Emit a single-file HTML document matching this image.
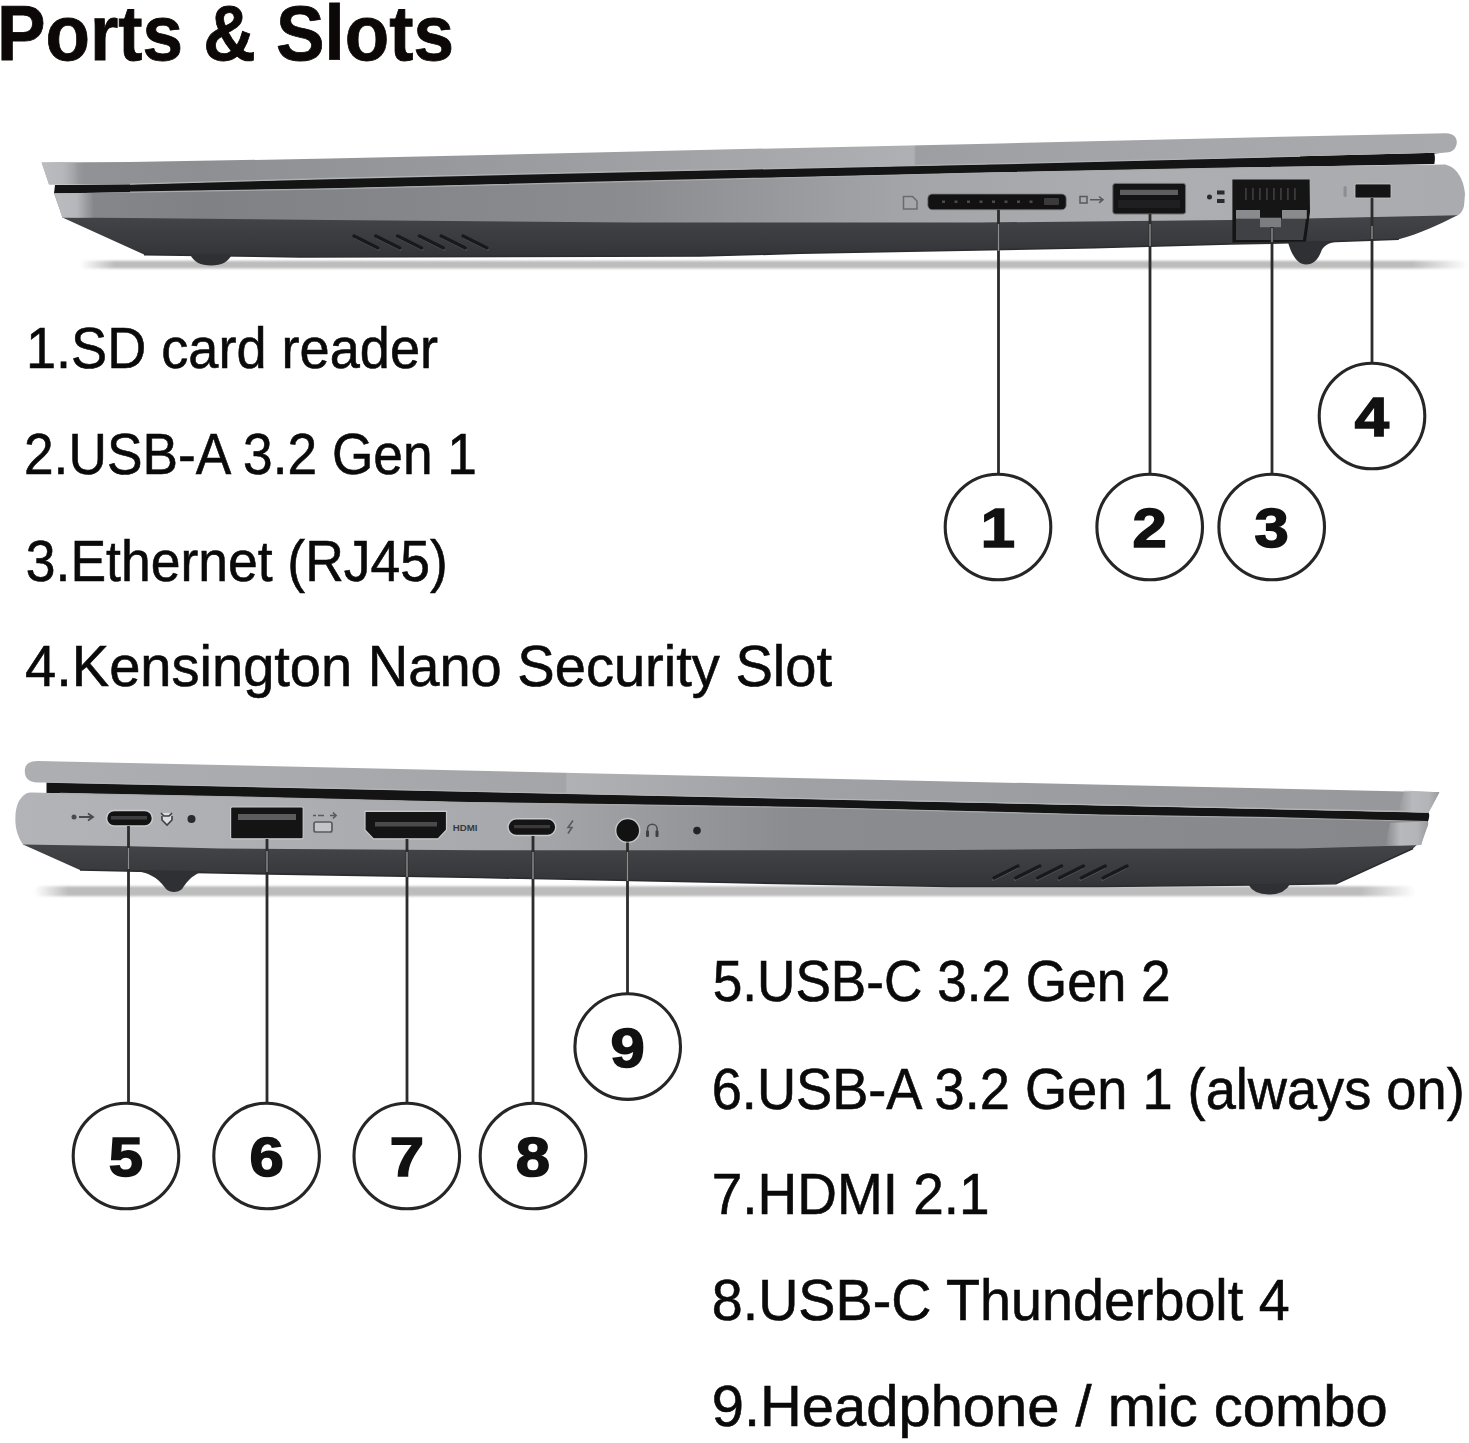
<!DOCTYPE html><html><head><meta charset="utf-8"><style>html,body{margin:0;padding:0;background:#fff;overflow:hidden}svg{display:block}</style></head><body>
<svg width="1469" height="1443" viewBox="0 0 1469 1443">
<defs>
<filter id="blur2" x="-5%" y="-200%" width="110%" height="500%"><feGaussianBlur stdDeviation="1.1"/></filter>
<filter id="soft" x="-20%" y="-20%" width="140%" height="140%"><feGaussianBlur stdDeviation="0.7"/></filter>
<linearGradient id="base1" gradientUnits="userSpaceOnUse" x1="40" x2="1465" y1="0" y2="0">
 <stop offset="0" stop-color="#b4b5b8"/><stop offset="0.0316" stop-color="#86878b"/><stop offset="0.1123" stop-color="#808185"/><stop offset="0.414" stop-color="#8b8c90"/><stop offset="0.6035" stop-color="#a3a4a7"/><stop offset="0.779" stop-color="#adaeb1"/><stop offset="1" stop-color="#aaabae"/>
</linearGradient>
<linearGradient id="lid1" gradientUnits="userSpaceOnUse" x1="40" x2="1465" y1="0" y2="0">
 <stop offset="0" stop-color="#b8b9bc"/><stop offset="0.0316" stop-color="#919296"/><stop offset="0.1123" stop-color="#8e8f93"/><stop offset="0.414" stop-color="#9fa0a3"/><stop offset="0.6133" stop-color="#afb0b3"/><stop offset="0.6146" stop-color="#9d9ea2"/><stop offset="0.814" stop-color="#a6a7aa"/><stop offset="1" stop-color="#a9aaad"/>
</linearGradient>
<linearGradient id="base2" gradientUnits="userSpaceOnUse" x1="10" x2="1430" y1="0" y2="0">
 <stop offset="0" stop-color="#b3b4b7"/><stop offset="0.35" stop-color="#a8a9ac"/><stop offset="0.55" stop-color="#8b8c90"/><stop offset="0.91" stop-color="#88898d"/><stop offset="1" stop-color="#86878a"/>
</linearGradient>
<linearGradient id="lid2" gradientUnits="userSpaceOnUse" x1="10" x2="1440" y1="0" y2="0">
 <stop offset="0" stop-color="#aeafb2"/><stop offset="0.3885" stop-color="#a4a5a8"/><stop offset="0.3895" stop-color="#b0b1b4"/><stop offset="0.55" stop-color="#a0a1a5"/><stop offset="0.9" stop-color="#999a9d"/><stop offset="1" stop-color="#96979a"/>
</linearGradient>
<linearGradient id="darkg" x1="0" x2="0" y1="0" y2="1"><stop offset="0" stop-color="#45464a"/><stop offset="1" stop-color="#333438"/></linearGradient>
<linearGradient id="bev" x1="0" x2="1" y1="0" y2="0"><stop offset="0" stop-color="#b8b9bc" stop-opacity="0"/><stop offset="0.35" stop-color="#b8b9bc"/><stop offset="0.75" stop-color="#b3b4b7"/><stop offset="1" stop-color="#9a9b9e"/></linearGradient>
<linearGradient id="bevL" x1="0" x2="1" y1="0" y2="0"><stop offset="0" stop-color="#bbbcbf"/><stop offset="0.55" stop-color="#b6b7ba"/><stop offset="1" stop-color="#b6b7ba" stop-opacity="0"/></linearGradient>
<linearGradient id="shad" x1="0" x2="1" y1="0" y2="0">
 <stop offset="0" stop-color="#bcbcbc" stop-opacity="0"/><stop offset="0.025" stop-color="#bcbcbc"/><stop offset="0.96" stop-color="#bcbcbc"/><stop offset="1" stop-color="#bcbcbc" stop-opacity="0"/>
</linearGradient>
</defs>
<rect width="1469" height="1443" fill="#fff"/>
<text x="-3" y="60" font-family='"Liberation Sans", sans-serif' font-weight="bold" font-size="78" fill="#0d0808" stroke="#0d0808" stroke-width="0.8" textLength="457" lengthAdjust="spacingAndGlyphs">Ports &amp; Slots</text>
<rect x="80" y="260.8" width="1388" height="7.6" rx="3.8" fill="url(#shad)" filter="url(#blur2)"/>
<path d="M62.4,214 L1457.6,211 L1457.6,215.3 C1440,224 1420,234 1398.8,239.2 L1322.0,242.0 L1230.0,244.0 L1094.0,247.8 L800.0,253.3 L700.0,256.0 L300.0,257.0 L144.0,254.6 L62.4,217.4 Z" fill="url(#darkg)"/>
<polyline points="1398.8,239.2 1322.0,242.0 1230.0,244.0 1094.0,247.8 800.0,253.3 700.0,256.0 300.0,257.0 144.0,254.6" fill="none" stroke="#2b2c2f" stroke-width="1.6"/>
<path d="M190,254 Q195,265.5 211,265.5 Q227,265.5 232,254 Z" fill="#2f3033"/>
<path d="M1288,242.5 C1292,256 1298,264.5 1306,264.5 C1314,264.5 1318,259 1321,252 C1323,246 1328,243 1338,241.3 Z" fill="#2f3033"/>
<path d="M55,185 L130.0,184.2 L330.0,178.5 L630.0,171.5 L980.0,164.2 L1300.0,156.2 L1446.0,152.6 L1434.3,153.5 Q1435.5,158 1434.3,164 L1240.0,167.8 L980.0,173.0 L630.0,181.4 L330.0,188.8 L130.0,192.2 L54.0,193.5 Z" fill="#141415"/>
<path d="M54,193.5 L130.0,192.2 L330.0,188.8 L630.0,181.4 L980.0,173.0 L1240.0,167.8 L1446.0,165.0 C1455,166 1464,178 1465,194 L1464,206 C1463,210 1461,214 1457.6,215.3 L1230.0,220.0 L980.0,222.5 L630.0,222.5 L330.0,220.0 L130.0,218.0 L62.4,217.4 Z" fill="url(#base1)"/>
<polyline points="130.0,192.2 330.0,188.8 630.0,181.4 980.0,173.0 1240.0,167.8 1446.0,165.0" fill="none" stroke="#a9aaad" stroke-width="1.2"/>
<path d="M41.6,162.5 L130.0,162.0 L330.0,158.6 L700.0,150.0 L1000.0,143.5 L1240.0,137.7 L1446.0,133.3 C1453,133.3 1457,137 1456.8,142.5 C1456.5,148 1453,152.2 1446,152.6 L1300.0,156.2 L980.0,164.2 L630.0,171.5 L330.0,178.5 L130.0,184.2 L49.0,184.5 Z" fill="url(#lid1)"/>
<polyline points="1300.0,156.2 980.0,164.2 630.0,171.5 330.0,178.5 130.0,184.2" fill="none" stroke="#b0b1b4" stroke-width="1.3"/>
<path d="M41.6,162.5 L76,161.8 L79,184.3 L49,184.5 Z" fill="url(#bevL)"/>
<path d="M54.5,193.5 L92,192.8 L94,218 L62.4,217.4 Z" fill="url(#bevL)"/>
<line x1="354.0" y1="236" x2="378.0" y2="248" stroke="#5a5b5f" stroke-width="2" stroke-linecap="round" transform="translate(0.8,1.6)"/>
<line x1="354.0" y1="236" x2="378.0" y2="248" stroke="#18191b" stroke-width="3.2" stroke-linecap="round"/>
<line x1="375.8" y1="236" x2="399.8" y2="248" stroke="#5a5b5f" stroke-width="2" stroke-linecap="round" transform="translate(0.8,1.6)"/>
<line x1="375.8" y1="236" x2="399.8" y2="248" stroke="#18191b" stroke-width="3.2" stroke-linecap="round"/>
<line x1="397.6" y1="236" x2="421.6" y2="248" stroke="#5a5b5f" stroke-width="2" stroke-linecap="round" transform="translate(0.8,1.6)"/>
<line x1="397.6" y1="236" x2="421.6" y2="248" stroke="#18191b" stroke-width="3.2" stroke-linecap="round"/>
<line x1="419.4" y1="236" x2="443.4" y2="248" stroke="#5a5b5f" stroke-width="2" stroke-linecap="round" transform="translate(0.8,1.6)"/>
<line x1="419.4" y1="236" x2="443.4" y2="248" stroke="#18191b" stroke-width="3.2" stroke-linecap="round"/>
<line x1="441.2" y1="236" x2="465.2" y2="248" stroke="#5a5b5f" stroke-width="2" stroke-linecap="round" transform="translate(0.8,1.6)"/>
<line x1="441.2" y1="236" x2="465.2" y2="248" stroke="#18191b" stroke-width="3.2" stroke-linecap="round"/>
<line x1="463.0" y1="236" x2="487.0" y2="248" stroke="#5a5b5f" stroke-width="2" stroke-linecap="round" transform="translate(0.8,1.6)"/>
<line x1="463.0" y1="236" x2="487.0" y2="248" stroke="#18191b" stroke-width="3.2" stroke-linecap="round"/>
<path d="M903.5,196.5 h9 l4.5,4.5 v8 h-13.5 z" fill="#a5a6a9" stroke="#6a6b6e" stroke-width="1.5"/>
<rect x="927.8" y="194" width="138.4" height="15.8" rx="4.5" fill="#121213" stroke="#7a7b7e" stroke-width="0.8"/>
<rect x="942.0" y="200.5" width="3" height="2.5" fill="#4a4a4c"/>
<rect x="954.5" y="200.5" width="3" height="2.5" fill="#4a4a4c"/>
<rect x="967.0" y="200.5" width="3" height="2.5" fill="#4a4a4c"/>
<rect x="979.5" y="200.5" width="3" height="2.5" fill="#4a4a4c"/>
<rect x="992.0" y="200.5" width="3" height="2.5" fill="#4a4a4c"/>
<rect x="1004.5" y="200.5" width="3" height="2.5" fill="#4a4a4c"/>
<rect x="1017.0" y="200.5" width="3" height="2.5" fill="#4a4a4c"/>
<rect x="1029.5" y="200.5" width="3" height="2.5" fill="#4a4a4c"/>
<rect x="1044" y="198" width="15" height="7" rx="1" fill="#3a3a3c"/>
<path d="M1080,196.5 h7 v6.5 h-7 z M1090,199.7 h13 M1099,196.5 l4,3.2 l-4,3.2" stroke="#58595c" stroke-width="1.5" fill="none"/>
<rect x="1112.8" y="183.4" width="72.8" height="30.6" rx="2.5" fill="#141415" stroke="#707174" stroke-width="1"/>
<rect x="1120" y="189.8" width="58" height="5.2" fill="#5e5e61"/>
<rect x="1118" y="200" width="62" height="8" fill="#1f1f21"/>
<path d="M1209.5,197 m-2.5,0 a2.5,2.5 0 1,0 5,0 a2.5,2.5 0 1,0 -5,0 M1217,190.5 h7.5 v4 h-7.5z M1217,199 h7.5 v4 h-7.5z" fill="#2a2a2c"/>
<path d="M1232.4,179.5 L1309.6,179.5 L1310,212 L1306,241.5 L1232.4,242.5 Z" fill="#151516"/>
<path d="M1236,219 L1306,219 L1303,240 L1236,240 Z" fill="#404145"/>
<rect x="1236" y="210" width="24" height="8.8" fill="#8a8b8e"/>
<rect x="1282" y="210" width="24.8" height="8.8" fill="#8a8b8e"/>
<rect x="1260" y="217.7" width="21" height="9.5" fill="#7c7d80"/>
<rect x="1245.0" y="188" width="1.8" height="12" fill="#3a3a3c"/>
<rect x="1252.0" y="188" width="1.8" height="12" fill="#3a3a3c"/>
<rect x="1259.0" y="188" width="1.8" height="12" fill="#3a3a3c"/>
<rect x="1266.0" y="188" width="1.8" height="12" fill="#3a3a3c"/>
<rect x="1273.0" y="188" width="1.8" height="12" fill="#3a3a3c"/>
<rect x="1280.0" y="188" width="1.8" height="12" fill="#3a3a3c"/>
<rect x="1287.0" y="188" width="1.8" height="12" fill="#3a3a3c"/>
<rect x="1294.0" y="188" width="1.8" height="12" fill="#3a3a3c"/>
<rect x="1355" y="184" width="36" height="14" rx="1.5" fill="#141415" stroke="#c5c6c9" stroke-width="0.8"/>
<rect x="1343.5" y="186" width="3.2" height="11" rx="1.6" fill="#8d8e91"/>
<rect x="34" y="886.3" width="1382" height="10" rx="5" fill="url(#shad)" filter="url(#blur2)"/>
<path d="M23,841 L1421,841 L1413.0,848.4 L1336.0,883.8 L1250.0,885.0 L1100.0,886.5 L950.0,886.5 L730.0,882.5 L480.0,877.5 L220.0,873.0 L80.0,870.0 L23.0,844.4 Z" fill="url(#darkg)"/>
<polyline points="1413.0,848.4 1336.0,883.8 1250.0,885.0 1100.0,886.5 950.0,886.5 730.0,882.5 480.0,877.5 220.0,873.0 80.0,870.0" fill="none" stroke="#2b2c2f" stroke-width="1.6"/>
<path d="M128,870 C150,871 160,880 166,889 C170,893 178,893 182,889 C188,880 193,874 205,871 Z" fill="#2f3033"/>
<path d="M1248,884 Q1254,895 1270,894.5 Q1285,894 1290,884 Z" fill="#2f3033"/>
<path d="M46.5,782 L1428.5,812.5 C1430,815 1429,818 1427.5,823.4 L1290.0,818.0 L1100.0,815.0 L830.0,808.0 L730.0,806.3 L470.0,802.5 L220.0,796.5 L60.0,793.3 L46.5,793.3 Z" fill="#141415"/>
<path d="M32,792.6 L60.0,793.3 L220.0,796.5 L470.0,802.5 L730.0,806.3 L830.0,808.0 L1100.0,815.0 L1290.0,818.0 L1427.5,821.5 L1421,845 L1300.0,848.5 L1100.0,848.8 L950.0,850.0 L830.0,850.2 L480.0,850.3 L220.0,848.5 L130.0,846.2 L23.0,844.4 C17,836 15,826 15.4,817.6 C15.6,808 18,801 22,797 C25,794 27,792.6 32,792.6 Z" fill="url(#base2)"/>
<polyline points="60.0,793.3 220.0,796.5 470.0,802.5 730.0,806.3 830.0,808.0 1100.0,815.0 1290.0,818.0 1427.5,821.5" fill="none" stroke="#a8a9ac" stroke-width="1.2"/>
<path d="M38,761 L1439.4,792.3 L1428.5,812.5 L46,782.5 L38,782.5 C28,782.5 24.8,777 24.8,771.5 C24.8,765 28,761 38,761 Z" fill="url(#lid2)"/>
<path d="M46,782 L1428,812" stroke="#b2b3b6" stroke-width="1.3" fill="none"/>
<path d="M1404,790.6 L1439.4,792.3 L1428.5,812.5 L1398,811.8 Z" fill="url(#bev)"/>
<path d="M1390,822.8 L1427.5,821.5 C1429,823 1428,826 1427,828 L1421,845 L1385,846 Z" fill="url(#bev)"/>
<line x1="994.0" y1="878" x2="1018.0" y2="866" stroke="#5a5b5f" stroke-width="2" stroke-linecap="round" transform="translate(-0.8,1.8)"/>
<line x1="994.0" y1="878" x2="1018.0" y2="866" stroke="#18191b" stroke-width="3.2" stroke-linecap="round"/>
<line x1="1015.8" y1="878" x2="1039.8" y2="866" stroke="#5a5b5f" stroke-width="2" stroke-linecap="round" transform="translate(-0.8,1.8)"/>
<line x1="1015.8" y1="878" x2="1039.8" y2="866" stroke="#18191b" stroke-width="3.2" stroke-linecap="round"/>
<line x1="1037.6" y1="878" x2="1061.6" y2="866" stroke="#5a5b5f" stroke-width="2" stroke-linecap="round" transform="translate(-0.8,1.8)"/>
<line x1="1037.6" y1="878" x2="1061.6" y2="866" stroke="#18191b" stroke-width="3.2" stroke-linecap="round"/>
<line x1="1059.4" y1="878" x2="1083.4" y2="866" stroke="#5a5b5f" stroke-width="2" stroke-linecap="round" transform="translate(-0.8,1.8)"/>
<line x1="1059.4" y1="878" x2="1083.4" y2="866" stroke="#18191b" stroke-width="3.2" stroke-linecap="round"/>
<line x1="1081.2" y1="878" x2="1105.2" y2="866" stroke="#5a5b5f" stroke-width="2" stroke-linecap="round" transform="translate(-0.8,1.8)"/>
<line x1="1081.2" y1="878" x2="1105.2" y2="866" stroke="#18191b" stroke-width="3.2" stroke-linecap="round"/>
<line x1="1103.0" y1="878" x2="1127.0" y2="866" stroke="#5a5b5f" stroke-width="2" stroke-linecap="round" transform="translate(-0.8,1.8)"/>
<line x1="1103.0" y1="878" x2="1127.0" y2="866" stroke="#18191b" stroke-width="3.2" stroke-linecap="round"/>
<path d="M74,817 m-2.5,0 a2.5,2.5 0 1,0 5,0 a2.5,2.5 0 1,0 -5,0" fill="#4a4b4e"/>
<path d="M79,817 h14 M88,813.5 l5,3.5 l-5,3.5" stroke="#4a4b4e" stroke-width="1.8" fill="none"/>
<rect x="106.5" y="810.5" width="46" height="15.5" rx="7.7" fill="#121213" stroke="#c8c9cc" stroke-width="1.6"/>
<rect x="111" y="816" width="36" height="3.5" fill="#3e3e40"/>
<path d="M161,813 l3,3 h5 l3,-3 M162,816 v4 l5,5 l5,-5 v-4" stroke="#3e3f42" stroke-width="1.6" fill="#dcdde0"/>
<circle cx="191.5" cy="819" r="4" fill="#2a2a2c"/>
<rect x="230.6" y="807" width="72.6" height="31.8" rx="1.5" fill="#141415" stroke="#c8c9cc" stroke-width="1.2"/>
<rect x="238" y="814" width="58" height="6" fill="#5c5c5f"/>
<path d="M313,815.5 h3 M318,815.5 h6 M330,815.5 h6 M333,812.5 l3,3 l-3,3" stroke="#5a5b5e" stroke-width="1.7" fill="none"/>
<path d="M316,822 h14 a2,2 0 0,1 2,2 v6 a2,2 0 0,1 -2,2 h-14 a2,2 0 0,1 -2,-2 v-6 a2,2 0 0,1 2,-2 z" stroke="#5a5b5e" stroke-width="1.7" fill="#c4c5c8"/>
<path d="M365,811.3 L446.5,811.3 L446.5,830 L438,838.8 L373.5,838.8 L365,830 Z" fill="#141415" stroke="#c8c9cc" stroke-width="1.2"/>
<rect x="375" y="822" width="62" height="4.5" fill="#4a4a4c"/>
<text x="452.7" y="830.8" font-family='"Liberation Sans", sans-serif' font-weight="bold" font-size="9" fill="#3a3a3c" textLength="24.8" lengthAdjust="spacingAndGlyphs">HDMI</text>
<rect x="508" y="818.7" width="47.8" height="16.8" rx="8.4" fill="#141415" stroke="#c8c9cc" stroke-width="1.4"/>
<rect x="514" y="825" width="36" height="3.2" fill="#3a3a3c"/>
<path d="M573,820.5 l-5,7 h4 l-4,6" stroke="#5a5b5e" stroke-width="1.6" fill="none"/>
<circle cx="627.7" cy="830.5" r="12" fill="#121213" stroke="#c4c5c8" stroke-width="1.4"/>
<path d="M647.5,832 v-3 a4.8,4.8 0 0,1 9.6,0 v3" stroke="#4a4b4e" stroke-width="1.5" fill="none"/>
<rect x="646" y="830.5" width="3" height="6.5" rx="1" fill="#3e3f42"/><rect x="655.5" y="830.5" width="3" height="6.5" rx="1" fill="#3e3f42"/>
<circle cx="697" cy="830.6" r="3.8" fill="#232325"/>
<line x1="998.5" y1="209.8" x2="998.5" y2="474" stroke="#2c2c2c" stroke-width="2.8"/>
<line x1="998.5" y1="224" x2="998.5" y2="251" stroke="#8e8e90" stroke-width="1.4"/>
<line x1="1150" y1="214" x2="1150" y2="474" stroke="#2c2c2c" stroke-width="2.8"/>
<line x1="1150" y1="224" x2="1150" y2="246" stroke="#8e8e90" stroke-width="1.4"/>
<line x1="1272" y1="227" x2="1272" y2="474" stroke="#2c2c2c" stroke-width="2.8"/>
<line x1="1272" y1="228" x2="1272" y2="242" stroke="#8e8e90" stroke-width="1.4"/>
<line x1="1372" y1="198" x2="1372" y2="363" stroke="#2c2c2c" stroke-width="2.8"/>
<line x1="1372" y1="226" x2="1372" y2="239" stroke="#8e8e90" stroke-width="1.4"/>
<line x1="128.5" y1="826" x2="128.5" y2="1103" stroke="#2c2c2c" stroke-width="2.8"/>
<line x1="128.5" y1="848" x2="128.5" y2="869" stroke="#8e8e90" stroke-width="1.4"/>
<line x1="267" y1="839" x2="267" y2="1103" stroke="#2c2c2c" stroke-width="2.8"/>
<line x1="267" y1="851" x2="267" y2="872" stroke="#8e8e90" stroke-width="1.4"/>
<line x1="407" y1="839" x2="407" y2="1103" stroke="#2c2c2c" stroke-width="2.8"/>
<line x1="407" y1="852" x2="407" y2="877" stroke="#8e8e90" stroke-width="1.4"/>
<line x1="533" y1="836" x2="533" y2="1103" stroke="#2c2c2c" stroke-width="2.8"/>
<line x1="533" y1="852" x2="533" y2="879" stroke="#8e8e90" stroke-width="1.4"/>
<line x1="627.5" y1="842.5" x2="627.5" y2="993" stroke="#2c2c2c" stroke-width="2.8"/>
<line x1="627.5" y1="852" x2="627.5" y2="881" stroke="#8e8e90" stroke-width="1.4"/>
<circle cx="998" cy="527" r="52.8" fill="none" stroke="#262626" stroke-width="3.1"/>
<text x="0" y="0" transform="translate(998,547) scale(1.12,1)" text-anchor="middle" font-family='"Liberation Sans", sans-serif' font-weight="bold" font-size="55" fill="#111" stroke="#111" stroke-width="1.6">1</text>
<circle cx="1149.7" cy="527" r="52.8" fill="none" stroke="#262626" stroke-width="3.1"/>
<text x="0" y="0" transform="translate(1149.7,547) scale(1.12,1)" text-anchor="middle" font-family='"Liberation Sans", sans-serif' font-weight="bold" font-size="55" fill="#111" stroke="#111" stroke-width="1.6">2</text>
<circle cx="1271.7" cy="527" r="52.8" fill="none" stroke="#262626" stroke-width="3.1"/>
<text x="0" y="0" transform="translate(1271.7,547) scale(1.12,1)" text-anchor="middle" font-family='"Liberation Sans", sans-serif' font-weight="bold" font-size="55" fill="#111" stroke="#111" stroke-width="1.6">3</text>
<circle cx="1372" cy="416" r="52.8" fill="none" stroke="#262626" stroke-width="3.1"/>
<text x="0" y="0" transform="translate(1372,436) scale(1.12,1)" text-anchor="middle" font-family='"Liberation Sans", sans-serif' font-weight="bold" font-size="55" fill="#111" stroke="#111" stroke-width="1.6">4</text>
<circle cx="126" cy="1156" r="52.8" fill="none" stroke="#262626" stroke-width="3.1"/>
<text x="0" y="0" transform="translate(126,1176) scale(1.12,1)" text-anchor="middle" font-family='"Liberation Sans", sans-serif' font-weight="bold" font-size="55" fill="#111" stroke="#111" stroke-width="1.6">5</text>
<circle cx="266.6" cy="1156" r="52.8" fill="none" stroke="#262626" stroke-width="3.1"/>
<text x="0" y="0" transform="translate(266.6,1176) scale(1.12,1)" text-anchor="middle" font-family='"Liberation Sans", sans-serif' font-weight="bold" font-size="55" fill="#111" stroke="#111" stroke-width="1.6">6</text>
<circle cx="406.8" cy="1156" r="52.8" fill="none" stroke="#262626" stroke-width="3.1"/>
<text x="0" y="0" transform="translate(406.8,1176) scale(1.12,1)" text-anchor="middle" font-family='"Liberation Sans", sans-serif' font-weight="bold" font-size="55" fill="#111" stroke="#111" stroke-width="1.6">7</text>
<circle cx="533" cy="1156" r="52.8" fill="none" stroke="#262626" stroke-width="3.1"/>
<text x="0" y="0" transform="translate(533,1176) scale(1.12,1)" text-anchor="middle" font-family='"Liberation Sans", sans-serif' font-weight="bold" font-size="55" fill="#111" stroke="#111" stroke-width="1.6">8</text>
<circle cx="627.7" cy="1046.6" r="52.8" fill="none" stroke="#262626" stroke-width="3.1"/>
<text x="0" y="0" transform="translate(627.7,1066.6) scale(1.12,1)" text-anchor="middle" font-family='"Liberation Sans", sans-serif' font-weight="bold" font-size="55" fill="#111" stroke="#111" stroke-width="1.6">9</text>
<text x="26" y="368" font-family='"Liberation Sans", sans-serif' font-size="58" fill="#0a0a0a" stroke="#0a0a0a" stroke-width="0.6" textLength="412" lengthAdjust="spacingAndGlyphs">1.SD card reader</text>
<text x="24" y="473.6" font-family='"Liberation Sans", sans-serif' font-size="58" fill="#0a0a0a" stroke="#0a0a0a" stroke-width="0.6" textLength="453" lengthAdjust="spacingAndGlyphs">2.USB-A 3.2 Gen 1</text>
<text x="25.8" y="581" font-family='"Liberation Sans", sans-serif' font-size="58" fill="#0a0a0a" stroke="#0a0a0a" stroke-width="0.6" textLength="422" lengthAdjust="spacingAndGlyphs">3.Ethernet (RJ45)</text>
<text x="25" y="686.3" font-family='"Liberation Sans", sans-serif' font-size="58" fill="#0a0a0a" stroke="#0a0a0a" stroke-width="0.6" textLength="807" lengthAdjust="spacingAndGlyphs">4.Kensington Nano Security Slot</text>
<text x="712.7" y="1001.3" font-family='"Liberation Sans", sans-serif' font-size="58" fill="#0a0a0a" stroke="#0a0a0a" stroke-width="0.6" textLength="458" lengthAdjust="spacingAndGlyphs">5.USB-C 3.2 Gen 2</text>
<text x="711.7" y="1108.6" font-family='"Liberation Sans", sans-serif' font-size="58" fill="#0a0a0a" stroke="#0a0a0a" stroke-width="0.6" textLength="753" lengthAdjust="spacingAndGlyphs">6.USB-A 3.2 Gen 1 (always on)</text>
<text x="711.7" y="1213.9" font-family='"Liberation Sans", sans-serif' font-size="58" fill="#0a0a0a" stroke="#0a0a0a" stroke-width="0.6" textLength="278" lengthAdjust="spacingAndGlyphs">7.HDMI 2.1</text>
<text x="711.7" y="1320" font-family='"Liberation Sans", sans-serif' font-size="58" fill="#0a0a0a" stroke="#0a0a0a" stroke-width="0.6" textLength="578" lengthAdjust="spacingAndGlyphs">8.USB-C Thunderbolt 4</text>
<text x="711.7" y="1426" font-family='"Liberation Sans", sans-serif' font-size="58" fill="#0a0a0a" stroke="#0a0a0a" stroke-width="0.6" textLength="676" lengthAdjust="spacingAndGlyphs">9.Headphone / mic combo</text>
</svg></body></html>
